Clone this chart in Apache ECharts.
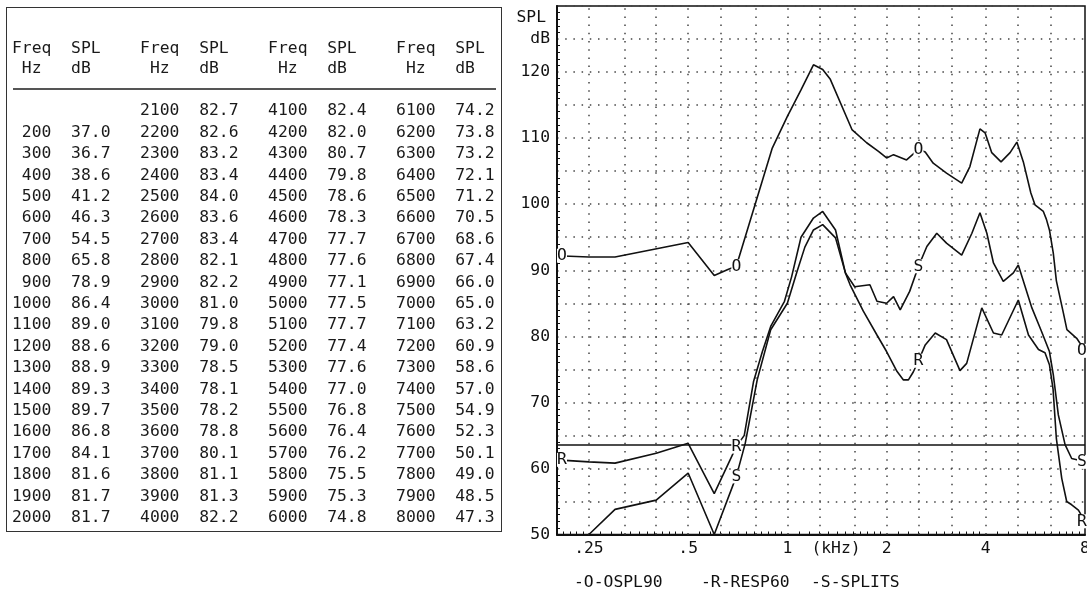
<!DOCTYPE html>
<html>
<head>
<meta charset="utf-8">
<title>OSPL90 / RESP60 / SPLITS</title>
<script src="https://cdn.jsdelivr.net/npm/echarts@6.0.0/dist/echarts.min.js"></script>
<style>
html, body { margin: 0; padding: 0; background: #fff; }
#page { position: relative; width: 1087px; height: 595px; overflow: hidden; }
#chart { position: absolute; left: 0; top: 0; width: 1087px; height: 595px; }
#box { position: absolute; left: 6px; top: 7px; width: 496px; height: 525px; border: 1.5px solid #333; box-sizing: border-box; }
#rule { position: absolute; left: 13px; top: 88px; width: 483px; height: 2px; background: #555; }
pre { position: absolute; margin: 0; font-family: "DejaVu Sans Mono", monospace; font-size: 16.36px; color: #1a1a1a; }
#head { left: 12px; top: 38px; line-height: 20px; }
#rows { left: 12px; top: 99.3px; line-height: 21.4px; }
</style>
</head>
<body>
<div id="page">
  <div id="chart"></div>
  <div id="box"></div>
  <div id="rule"></div>
  <pre id="head"></pre>
  <pre id="rows"></pre>
</div>
<script>
// table: target SPL per frequency (Hz, dB)
var tableFreq = [200, 300, 400, 500, 600, 700, 800, 900, 1000, 1100, 1200, 1300, 1400, 1500, 1600, 1700, 1800, 1900, 2000,
  2100, 2200, 2300, 2400, 2500, 2600, 2700, 2800, 2900, 3000, 3100, 3200, 3300, 3400, 3500, 3600, 3700, 3800, 3900, 4000,
  4100, 4200, 4300, 4400, 4500, 4600, 4700, 4800, 4900, 5000, 5100, 5200, 5300, 5400, 5500, 5600, 5700, 5800, 5900, 6000,
  6100, 6200, 6300, 6400, 6500, 6600, 6700, 6800, 6900, 7000, 7100, 7200, 7300, 7400, 7500, 7600, 7700, 7800, 7900, 8000];
var tableSpl = [37.0, 36.7, 38.6, 41.2, 46.3, 54.5, 65.8, 78.9, 86.4, 89.0, 88.6, 88.9, 89.3, 89.7, 86.8, 84.1, 81.6, 81.7, 81.7,
  82.7, 82.6, 83.2, 83.4, 84.0, 83.6, 83.4, 82.1, 82.2, 81.0, 79.8, 79.0, 78.5, 78.1, 78.2, 78.8, 80.1, 81.1, 81.3, 82.2,
  82.4, 82.0, 80.7, 79.8, 78.6, 78.3, 77.7, 77.6, 77.1, 77.5, 77.7, 77.4, 77.6, 77.0, 76.8, 76.4, 76.2, 75.5, 75.3, 74.8,
  74.2, 73.8, 73.2, 72.1, 71.2, 70.5, 68.6, 67.4, 66.0, 65.0, 63.2, 60.9, 58.6, 57.0, 54.9, 52.3, 50.1, 49.0, 48.5, 47.3];

// curves: frequency in kHz, level in dB SPL
var osplFreq = [0.2, 0.25, 0.3, 0.5, 0.6, 0.66, 0.7, 0.9, 1.0, 1.1, 1.2, 1.28, 1.35, 1.57, 1.74, 1.89, 2.0, 2.1, 2.3,
  2.5, 2.62, 2.77, 3.04, 3.38, 3.58, 3.84, 3.98, 4.17, 4.45, 4.74, 4.97, 5.2, 5.48, 5.64, 5.98, 6.11, 6.24, 6.41, 6.55,
  6.88, 7.05, 7.55, 8.0];
var osplDb = [92.2, 92.0, 92.0, 94.2, 89.2, 90.1, 90.6, 108.5, 113.3, 117.3, 121.1, 120.4, 118.9, 111.3, 109.3, 108.0, 107.0, 107.5, 106.7,
  108.3, 107.9, 106.2, 104.7, 103.2, 105.7, 111.4, 110.8, 107.8, 106.4, 107.8, 109.4, 106.4, 101.7, 99.9, 98.9, 97.7, 96.1, 92.6, 88.4,
  83.5, 81.0, 79.7, 77.8];

var respFreq = [0.2, 0.25, 0.3, 0.4, 0.5, 0.6, 0.7, 0.74, 0.79, 0.84, 0.89, 0.98, 1.03, 1.1, 1.2, 1.28, 1.4, 1.5, 1.55, 1.7,
  1.87, 2.0, 2.15, 2.25, 2.33, 2.41, 2.5, 2.62, 2.81, 3.04, 3.34, 3.5, 3.89, 4.22, 4.47, 5.02, 5.39, 5.78, 6.05, 6.24,
  6.4, 6.55, 6.8, 7.04, 7.29, 7.64, 8.0];
var respDb = [61.3, 61.0, 60.8, 62.3, 63.8, 56.2, 63.3, 65.0, 73.2, 77.7, 81.5, 85.3, 89.0, 95.0, 97.9, 98.9, 96.1, 89.6, 87.8, 83.8,
  80.2, 77.7, 74.7, 73.4, 73.4, 74.6, 76.3, 78.7, 80.5, 79.5, 74.8, 75.9, 84.3, 80.5, 80.2, 85.5, 80.2, 78.0, 77.5, 75.7,
  72.0, 64.5, 58.5, 55.0, 54.5, 53.7, 52.0];

var splitFreq = [0.25, 0.3, 0.4, 0.5, 0.6, 0.7, 0.745, 0.81, 0.89, 1.0, 1.07, 1.13, 1.2, 1.28, 1.4, 1.5, 1.6, 1.78, 1.87, 2.0,
  2.1, 2.2, 2.35, 2.5, 2.65, 2.84, 3.04, 3.38, 3.63, 3.84, 4.03, 4.22, 4.52, 4.85, 5.02, 5.52, 5.91, 6.24, 6.41, 6.64,
  6.96, 7.29, 8.0];
var splitDb = [50.0, 53.8, 55.2, 59.3, 50.0, 58.8, 63.8, 73.4, 81.0, 85.0, 89.8, 93.5, 96.1, 96.9, 94.9, 89.6, 87.5, 87.8, 85.3, 85.0,
  86.0, 84.0, 86.8, 90.6, 93.6, 95.6, 94.1, 92.3, 95.6, 98.7, 95.6, 91.1, 88.3, 89.6, 90.8, 84.3, 80.7, 77.7, 74.2, 68.1,
  63.6, 61.5, 61.0];

var refLevel = 63.6;
var thirdOctaves = [0.25, 0.315, 0.4, 0.5, 0.63, 0.8, 1, 1.25, 1.6, 2, 2.5, 3.15, 4, 5, 6.3];
var freqLabels = { 0.25: '.25', 0.5: '.5', 1: '1', 2: '2', 4: '4', 8: '8' };
var letterFreqs = [0.2, 0.7, 2.5, 8];
var legendTag = { OSPL90: '-O-', RESP60: '-R-', SPLITS: '-S-' };

var monoFont = 'DejaVu Sans Mono';
var textSize = 16.36;

// ---- table text
function pad(s, n) {
  s = String(s);
  while (s.length < n) s = ' ' + s;
  return s;
}
document.getElementById('head').textContent =
  'Freq  SPL    Freq  SPL    Freq  SPL    Freq  SPL\n' +
  ' Hz   dB      Hz   dB      Hz   dB      Hz   dB';
var lines = [];
for (var r = 0; r < 20; r++) {
  var line = '';
  for (var g = 0; g < 4; g++) {
    var i = g === 0 ? r - 1 : 19 + 20 * (g - 1) + r;
    var cell = i < 0 ? '          ' : pad(tableFreq[i], 4) + '  ' + pad(tableSpl[i].toFixed(1), 4);
    line += (g ? '   ' : '') + cell;
  }
  lines.push(line);
}
document.getElementById('rows').textContent = lines.join('\n');

// ---- chart
function letterMarks(freqs, dbs, letter) {
  var out = [];
  letterFreqs.forEach(function (f) {
    var k = freqs.indexOf(f);
    if (k < 0) return;
    out.push({
      name: letter,
      coord: [f, dbs[k]],
      symbolOffset: [f === 0.2 ? 5 : (f === 8 ? -3 : 0), 0]
    });
  });
  return out;
}

function curve(name, freqs, dbs, letter) {
  return {
    name: name,
    type: 'line',
    data: freqs.map(function (f, k) { return [f, dbs[k]]; }),
    showSymbol: false,
    symbol: 'none',
    silent: true,
    lineStyle: { color: '#111', width: 1.6 },
    itemStyle: { color: '#111' },
    markPoint: {
      symbol: 'rect',
      symbolSize: [10, 14],
      silent: true,
      itemStyle: { color: '#fff' },
      label: { show: true, position: 'inside', formatter: '{b}', color: '#111', fontFamily: monoFont, fontSize: textSize },
      data: letterMarks(freqs, dbs, letter)
    }
  };
}

var series = [
  curve('OSPL90', osplFreq, osplDb, 'O'),
  curve('RESP60', respFreq, respDb, 'R'),
  curve('SPLITS', splitFreq, splitDb, 'S')
];
// dotted third-octave grid and the reference level line
series[0].markLine = {
  silent: true,
  z: 1,
  symbol: ['none', 'none'],
  label: { show: false },
  data: thirdOctaves.map(function (f) {
    return { xAxis: f, lineStyle: { type: [1.5, 6.7], width: 1.5, color: '#444' } };
  }).concat([{ yAxis: refLevel, lineStyle: { type: 'solid', width: 1.5, color: '#111' } }])
};

function legendAt(name, x) {
  return {
    data: [name],
    left: x,
    top: 573.5,
    padding: 0,
    itemWidth: 0,
    itemHeight: 0,
    selectedMode: false,
    formatter: function (n) { return legendTag[n] + n; },
    textStyle: { fontFamily: monoFont, fontSize: textSize, color: '#111', lineHeight: 18 }
  };
}

var myChart = echarts.init(document.getElementById('chart'));
myChart.setOption({
  animation: false,
  textStyle: { fontFamily: monoFont },
  grid: {
    left: 557, right: 2, top: 6, bottom: 60.5,
    show: true, borderColor: '#111', borderWidth: 1.5, backgroundColor: '#fff',
    containLabel: false, outerBoundsMode: 'none'
  },
  legend: [legendAt('OSPL90', 568), legendAt('RESP60', 695), legendAt('SPLITS', 805)],
  xAxis: {
    type: 'log',
    logBase: 2,
    min: 0.2,
    max: 8,
    axisLine: { show: true, lineStyle: { color: '#111', width: 2 } },
    axisTick: { show: false, inside: true },
    minorTick: { show: true, splitNumber: 12, length: 3, lineStyle: { color: '#111' } },
    splitLine: { show: false },
    minorSplitLine: { show: false },
    axisLabel: {
      margin: 5,
      fontFamily: monoFont, fontSize: textSize, color: '#111', lineHeight: 18,
      formatter: function (v) {
        for (var key in freqLabels) {
          if (Math.abs(v - Number(key)) < 1e-6) return freqLabels[key];
        }
        return '';
      }
    },
    name: '(kHz)',
    nameLocation: 'middle',
    nameGap: 5,
    nameMoveOverlap: false,
    nameTextStyle: { fontFamily: monoFont, fontSize: textSize, color: '#111', lineHeight: 18, verticalAlign: 'top', padding: [0, 0, 0, 30] }
  },
  yAxis: {
    type: 'value',
    min: 50,
    max: 130,
    interval: 5,
    axisLine: { show: true, lineStyle: { color: '#111', width: 2 } },
    axisTick: { show: false, inside: true },
    minorTick: { show: true, splitNumber: 5, length: 3, lineStyle: { color: '#111' } },
    splitLine: { show: true, lineStyle: { type: [1.5, 6.7], width: 1.5, color: '#444' } },
    axisLabel: {
      margin: 7,
      fontFamily: monoFont, fontSize: textSize, color: '#111',
      formatter: function (v) {
        if (v === 125) return 'dB';
        return (v % 10 === 0 && v < 130) ? String(v) : '';
      }
    },
    name: 'SPL',
    nameLocation: 'end',
    nameGap: -12,
    nameTextStyle: { fontFamily: monoFont, fontSize: textSize, color: '#111', align: 'right', verticalAlign: 'middle', padding: [0, 11, 0, 0] }
  },
  series: series
});
</script>
</body>
</html>
